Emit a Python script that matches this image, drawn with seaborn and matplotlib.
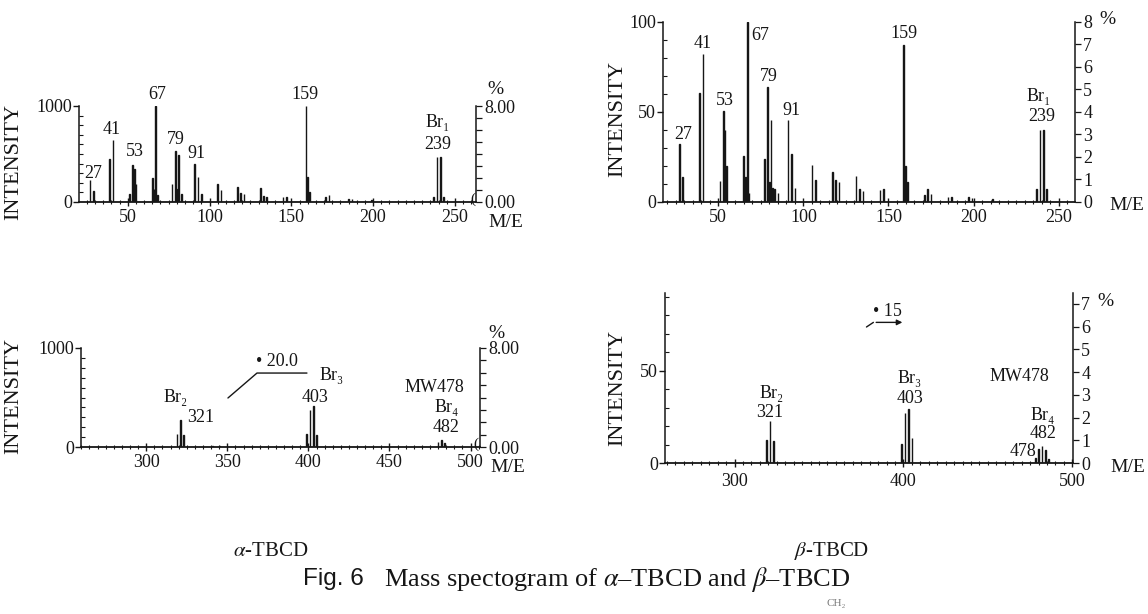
import matplotlib
matplotlib.use("Agg")
import matplotlib.pyplot as plt
import seaborn as sns
import pandas as pd
from matplotlib.ticker import MultipleLocator, FixedLocator, FixedFormatter

# ---------------- data ----------------
# alpha-TBCD, low mass range (intensity 0-1000)
a_low_mz = [27, 29, 39, 41, 51, 53, 54, 55, 65, 66, 67, 68, 77, 79, 80, 81, 83,
            91, 93, 95, 105, 107, 117, 119, 121, 131, 133, 135, 145, 147,
            159, 160, 161, 171, 173, 185, 187, 199, 237, 239, 241, 243]
a_low_int = [229, 113, 445, 650, 86, 384, 342, 188, 250, 137, 1000, 68, 188, 530, 137, 486, 86,
             400, 257, 86, 188, 127, 154, 96, 86, 144, 58, 51, 51, 51,
             1000, 257, 103, 51, 68, 27, 27, 20, 51, 470, 470, 51]
# beta-TBCD, low mass range (intensity 0-100)
b_low_mz = [27, 29, 39, 41, 51, 53, 54, 55, 65, 66, 67, 68, 77, 79, 80, 81, 82, 83, 85,
            91, 93, 95, 105, 107, 117, 119, 121, 131, 133, 135, 145, 147,
            159, 160, 161, 171, 173, 175, 185, 187, 197, 199, 211, 237, 239, 241, 243]
b_low_int = [32.3, 13.7, 60.3, 82, 11.4, 50.5, 40, 20, 25.6, 14, 100, 5, 23.8, 63.7, 11, 45.6, 7.7, 7.2, 5,
             45.6, 26.6, 7.7, 20.7, 12.4, 16.4, 12.4, 11, 14.2, 7.2, 6.3, 6.8, 7.2,
             87, 20, 11, 4, 7.2, 4.6, 3, 3, 2.5, 2, 1.5, 7.2, 40, 40, 7.2]
# alpha-TBCD, high mass range
a_high_mz = [319, 321, 323, 341, 345, 399, 401, 403, 405, 480, 482, 484]
a_high_int = [129, 271, 119, 8, 8, 136, 373, 414, 119, 50, 75, 40]
# beta-TBCD, high mass range
b_high_mz = [319, 321, 323, 399, 401, 403, 405, 478, 480, 482, 484, 486]
b_high_int = [12.3, 22.8, 11.8, 10.1, 26.8, 29, 13.6, 2.5, 7.8, 9.2, 6.9, 2.4]

# peak labels: (text, x, y)
tl_labels = [("27", 28.8, 302), ("41", 40.4, 760), ("53", 54.4, 521), ("67", 67.9, 1115),
             ("79", 79.5, 646), ("91", 91.7, 510), ("159", 158.4, 1115),
             ("Br₁", 239.7, 823), ("239", 239.7, 594)]
tr_labels = [("27", 29.2, 37.3), ("41", 41, 88.2), ("53", 53.9, 56.6), ("67", 74.5, 92.6),
             ("79", 79.8, 69.6), ("91", 92.7, 51), ("159", 159, 93.5),
             ("Br₁", 238.5, 58.5), ("239", 240, 47.4)]
bl_labels = [("Br₂", 318.4, 495), ("321", 333.8, 293), ("Br₃", 414.6, 727), ("403", 404, 505),
             ("MW478", 477.4, 606), ("Br₄", 485.5, 394), ("482", 484.8, 202)]
br_labels = [("Br₂", 322, 37.7), ("321", 321, 27.2), ("Br₃", 403.4, 45.8), ("403", 404, 35),
             ("MW478", 468.6, 46.7), ("Br₄", 482.6, 25.9), ("482", 482.6, 15.9), ("478", 470.8, 6)]

W, H = 1148, 614
INK = "#161616"

sns.set_theme(style="ticks")
plt.rcParams["font.family"] = ["Liberation Serif", "DejaVu Serif"]
plt.rcParams["mathtext.fontset"] = "stix"
plt.rcParams["text.color"] = INK
plt.rcParams["axes.edgecolor"] = INK
plt.rcParams["xtick.color"] = INK
plt.rcParams["ytick.color"] = INK

fig = plt.figure(figsize=(W / 100, H / 100), dpi=100)
fig.patch.set_facecolor("white")


def px_axes(l, r, t, b):
    return fig.add_axes([l / W, 1 - b / H, (r - l) / W, (b - t) / H])


def ftext(x, y, s, **kw):
    fig.text(x / W, 1 - y / H, s, **kw)


def panel(rect, mz, inten, xlim, ylim, ymaj, ymin_step, xmaj, rlim, rticks, rfmt, labels,
          xpad=2):
    ax = px_axes(*rect)
    df = pd.DataFrame({"mz": mz, "intensity": inten})
    sns.histplot(data=df, x="mz", weights="intensity", discrete=True, shrink=0.4,
                 color=INK, edgecolor=INK, linewidth=1.0, alpha=1, ax=ax)
    ax.set_xlim(*xlim)
    ax.set_ylim(*ylim)
    ax.set_xlabel("")
    ax.set_ylabel("")
    ax.set_facecolor("white")
    for s in ["top", "right"]:
        ax.spines[s].set_visible(False)
    ax.spines["left"].set_linewidth(1.1)
    ax.spines["bottom"].set_linewidth(1.3)
    ax.xaxis.set_major_locator(MultipleLocator(xmaj))
    ax.xaxis.set_minor_locator(MultipleLocator(5))
    ax.yaxis.set_major_locator(FixedLocator(ymaj))
    ax.yaxis.set_minor_locator(MultipleLocator(ymin_step))
    ax.tick_params(axis="x", which="major", direction="inout", length=6, width=1.0,
                   labelsize=13, pad=xpad)
    ax.tick_params(axis="x", which="minor", direction="inout", length=3, width=0.8)
    ax.tick_params(axis="y", which="major", direction="out", length=4, width=1.0,
                   labelsize=13, pad=1)
    ax.tick_params(axis="y", which="minor", direction="in", length=3, width=0.8)
    ax.grid(False)
    ax2 = ax.twinx()
    ax2.set_ylim(*rlim)
    for s in ["top", "left", "bottom"]:
        ax2.spines[s].set_visible(False)
    ax2.spines["right"].set_linewidth(1.1)
    ax2.yaxis.set_major_locator(FixedLocator(rticks))
    ax2.yaxis.set_major_formatter(FixedFormatter([rfmt.format(v) for v in rticks]))
    ax2.yaxis.set_minor_locator(MultipleLocator(1))
    ax2.tick_params(axis="y", which="both", direction="out", length=4, width=0.9,
                    labelsize=13, pad=2)
    ax2.grid(False)
    for s, x, y in labels:
        ax.text(x, y, s, ha="center", va="center", fontsize=13, color=INK)
    return ax, ax2


# top-left: alpha low
axTL, _ = panel((79, 476, 106, 202), a_low_mz, a_low_int, (20.2, 262.9), (0, 1000),
                [0, 1000], 100, 50, (0, 8), [0, 8], "{:.2f}", tl_labels)
axTL.text(261.0, 25, "(", ha="center", va="center", fontsize=11, color=INK)

# top-right: beta low
axTR, _ = panel((663, 1075, 22, 202), b_low_mz, b_low_int, (17.5, 259.6), (0, 100),
                [0, 50, 100], 10, 50, (0, 8), list(range(9)), "{:d}", tr_labels)

# bottom-left: alpha high
axBL, _ = panel((81, 480, 348, 447), a_high_mz, a_high_int, (259.8, 505.8), (0, 1000),
                [0, 1000], 100, 50, (0, 8), [0, 8], "{:.2f}", bl_labels)
axBL.text(503.0, 30, "(", ha="center", va="center", fontsize=11, color=INK)
axBL.plot([350.4, 368.3, 399.1], [495, 747, 747], color=INK, lw=1.0)
axBL.text(367.7, 859, "• 20.0", ha="left", va="center", fontsize=13, color=INK)

# bottom-right: beta high
axBR, _ = panel((665, 1073, 293, 463), b_high_mz, b_high_int, (258.8, 500.4), (0, 92),
                [0, 50], 10, 100, (0, 92 / 12.3), list(range(8)), "{:d}", br_labels,
                xpad=4)
axBR.text(382.0, 82, "• 15", ha="left", va="center", fontsize=13, color=INK)
axBR.plot([378.1, 382.2], [73.6, 76.1], color=INK, lw=1.0)
axBR.annotate("", xy=(401, 76.1), xytext=(382.2, 76.1),
              arrowprops=dict(arrowstyle="-|>", lw=1.0, color=INK, mutation_scale=8))

# axis titles / units
for (x, y) in [(14, 162), (618, 119), (14, 396), (618, 388)]:
    ftext(x, y, "INTENSITY", rotation=90, ha="center", va="center", fontsize=16)
for (x, y) in [(506, 223), (1127, 206), (508, 467), (1128, 467)]:
    ftext(x, y, "M/E", ha="center", va="center", fontsize=14)
for (x, y) in [(495, 89), (1107, 19), (496, 334), (1105, 301)]:
    ftext(x, y, "%", ha="center", va="center", fontsize=14)

# captions
ftext(271, 551, r"$\alpha$-TBCD", ha="center", va="center", fontsize=15)
ftext(832, 551, r"$\beta$-TBCD", ha="center", va="center", fontsize=15)
ftext(303, 579, "Fig. 6", ha="left", va="center", fontsize=17.5,
      family=["Liberation Sans", "DejaVu Sans"])
ftext(384, 579, r"Mass spectogram of $\alpha$–TBCD and $\beta$–TBCD", ha="left",
      va="center", fontsize=19)
ftext(836, 604, "CH₂", ha="center", va="center", fontsize=8, color="#777777")

fig.savefig("out.png", dpi=100, facecolor="white")
